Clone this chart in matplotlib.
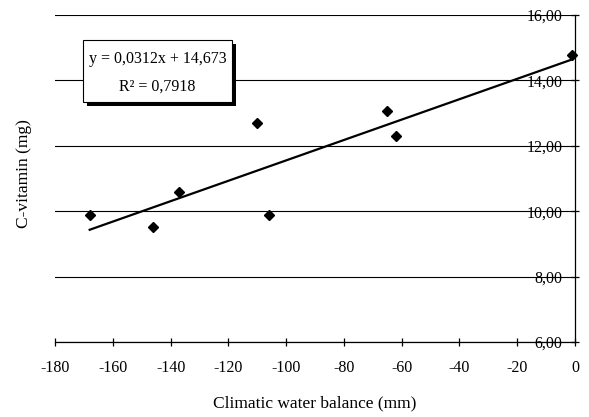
import matplotlib.pyplot as plt
from matplotlib.patches import Rectangle
from matplotlib.ticker import FuncFormatter


# Climatic water balance (mm) vs C-vitamin (mg)
water_balance = [-168, -146, -137, -110, -106, -65, -62, -1]
vitamin_c = [9.88, 9.52, 10.58, 12.70, 9.88, 13.05, 12.30, 14.78]

# trend line as reported on the chart
slope = 0.0312
intercept = 14.673
r_squared = 0.7918

x_ticks = [-180, -160, -140, -120, -100, -80, -60, -40, -20, 0]
y_ticks = [6, 8, 10, 12, 14, 16]


def comma(value, decimals):
    return f"{value:.{decimals}f}".replace(".", ",")


def main() -> None:
    plt.rcParams["font.family"] = ["Liberation Serif", "DejaVu Serif"]

    fig = plt.figure(figsize=(5.89, 4.17), dpi=100)
    ax = fig.add_axes([0.0934, 0.180, 0.8829, 0.784])

    ax.set_xlim(-180, 0)
    ax.set_ylim(6, 16)

    # value axis crosses at x = 0, like the Excel original
    ax.spines["left"].set_position(("data", 0))
    ax.spines["top"].set_visible(False)
    ax.spines["right"].set_visible(False)
    for side in ("left", "bottom"):
        ax.spines[side].set_linewidth(0.9)

    ax.set_xticks(x_ticks)
    ax.set_yticks(y_ticks)
    ax.yaxis.set_major_formatter(FuncFormatter(lambda v, _: comma(v, 2)))
    ax.xaxis.set_major_formatter(FuncFormatter(lambda v, _: f"{v:.0f}"))
    ax.tick_params(axis="both", direction="inout", length=6, width=0.9,
                   colors="black", labelsize=11.5)
    ax.tick_params(axis="x", pad=10)
    ax.tick_params(axis="y", pad=6)

    ax.yaxis.grid(True, color="black", linewidth=0.8)
    ax.set_axisbelow(True)

    ax.plot(water_balance, vitamin_c, linestyle="none", marker="D",
            markersize=5, color="black", clip_on=False, zorder=3)

    x_line = [min(water_balance), max(water_balance)]
    y_line = [slope * x + intercept for x in x_line]
    ax.plot(x_line, y_line, color="black", linewidth=1.6, zorder=3)

    # equation box with its drop shadow
    box_x, box_y, box_w, box_h = 0.0538, 0.734, 0.2866, 0.1895
    ax.add_patch(Rectangle((box_x + 0.0077, box_y - 0.0122), box_w, box_h,
                           transform=ax.transAxes, facecolor="black",
                           edgecolor="none", zorder=4))
    ax.add_patch(Rectangle((box_x, box_y), box_w, box_h,
                           transform=ax.transAxes, facecolor="white",
                           edgecolor="black", linewidth=0.8, zorder=5))
    ax.text(0.197, 0.865, f"y = {comma(slope, 4)}x + {comma(intercept, 3)}",
            transform=ax.transAxes, ha="center", va="center",
            fontsize=11.5, zorder=6)
    ax.text(0.197, 0.780, f"R² = {comma(r_squared, 4)}",
            transform=ax.transAxes, ha="center", va="center",
            fontsize=11.5, zorder=6)

    fig.text(0.535, 0.022, "Climatic water balance (mm)",
             ha="center", va="baseline", fontsize=12.5)
    fig.text(0.041, 0.583, "C-vitamin (mg)", rotation=90,
             ha="center", va="center", fontsize=12.5)

    fig.savefig("out.png", dpi=100)
    plt.close(fig)


if __name__ == "__main__":
    main()
